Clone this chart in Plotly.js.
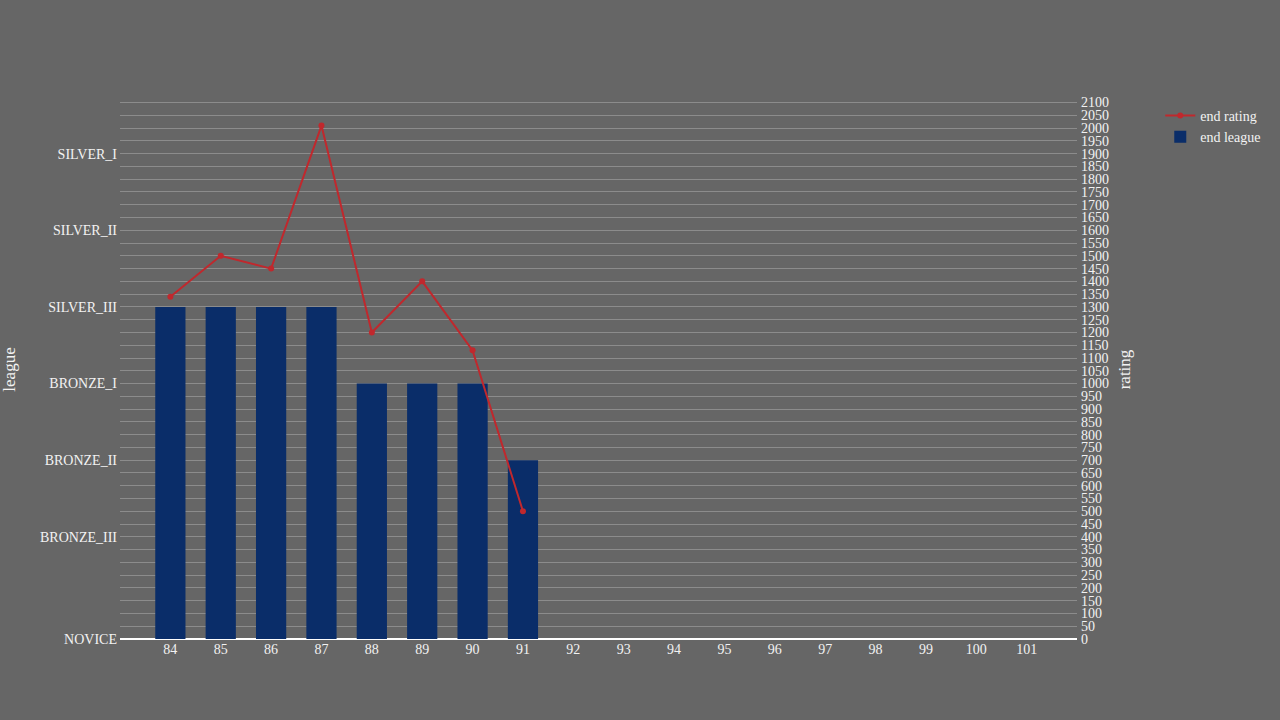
<!DOCTYPE html>
<html>
<head>
<meta charset="utf-8">
<script src="https://cdn.plot.ly/plotly-3.0.1.min.js"></script>
<style>
  html, body { margin: 0; padding: 0; background: #666666; }
  #chart { width: 1280px; height: 720px; }
</style>
</head>
<body>
<div id="chart"></div>
<script>
// season numbers on the x axis
const seasons = [84, 85, 86, 87, 88, 89, 90, 91];
const allSeasons = [84, 85, 86, 87, 88, 89, 90, 91, 92, 93, 94, 95, 96, 97, 98, 99, 100, 101];

// end rating per season (right axis)
const endRating = [1340, 1500, 1450, 2010, 1200, 1400, 1130, 500];

// end league per season, as its rating floor (left axis)
const endLeague = [1300, 1300, 1300, 1300, 1000, 1000, 1000, 700];

// league names and where they sit on the left axis
const leagueNames = ['NOVICE', 'BRONZE_III', 'BRONZE_II', 'BRONZE_I', 'SILVER_III', 'SILVER_II', 'SILVER_I'];
const leagueVals = [0, 400, 700, 1000, 1300, 1600, 1900];

const font = {family: 'Liberation Serif', size: 14, color: '#f2f2f2'};

const ratingLine = {
    name: 'end rating',
    x: seasons,
    y: endRating,
    yaxis: 'y2',
    type: 'scatter',
    mode: 'lines+markers',
    line: {color: '#c0282d', width: 2},
    marker: {color: '#c0282d', size: 6}
};

const leagueBars = {
    name: 'end league',
    x: seasons,
    y: endLeague,
    yaxis: 'y',
    type: 'bar',
    marker: {color: '#0a2d69'}
};

const layout = {
    width: 1280,
    height: 720,
    paper_bgcolor: '#666666',
    plot_bgcolor: '#666666',
    font: font,
    margin: {l: 120, r: 203, t: 100, b: 81},
    bargap: 0.4,
    showlegend: true,
    legend: {x: 1.087, y: 1.0, xanchor: 'left', yanchor: 'top', font: font, bgcolor: 'rgba(0,0,0,0)'},
    xaxis: {
        type: 'linear',
        range: [83, 102],
        tickvals: allSeasons,
        ticktext: allSeasons.map(String),
        showgrid: false,
        zeroline: false,
        showline: false,
        ticks: ''
    },
    yaxis: {
        title: {text: 'league', standoff: 20},
        range: [0, 2110],
        tickvals: leagueVals,
        ticktext: leagueNames,
        showgrid: false,
        zeroline: true,
        zerolinecolor: '#ffffff',
        zerolinewidth: 2,
        showline: false,
        ticks: '',
        ticklabelstandoff: 2
    },
    yaxis2: {
        title: {text: 'rating'},
        overlaying: 'y',
        side: 'right',
        range: [0, 2110],
        tick0: 0,
        dtick: 50,
        showgrid: true,
        gridcolor: '#8c8c8c',
        gridwidth: 1,
        zeroline: false,
        showline: false,
        ticks: '',
        ticklabelstandoff: 3
    }
};

Plotly.newPlot('chart', [ratingLine, leagueBars], layout, {displayModeBar: false, staticPlot: true});
</script>
</body>
</html>
